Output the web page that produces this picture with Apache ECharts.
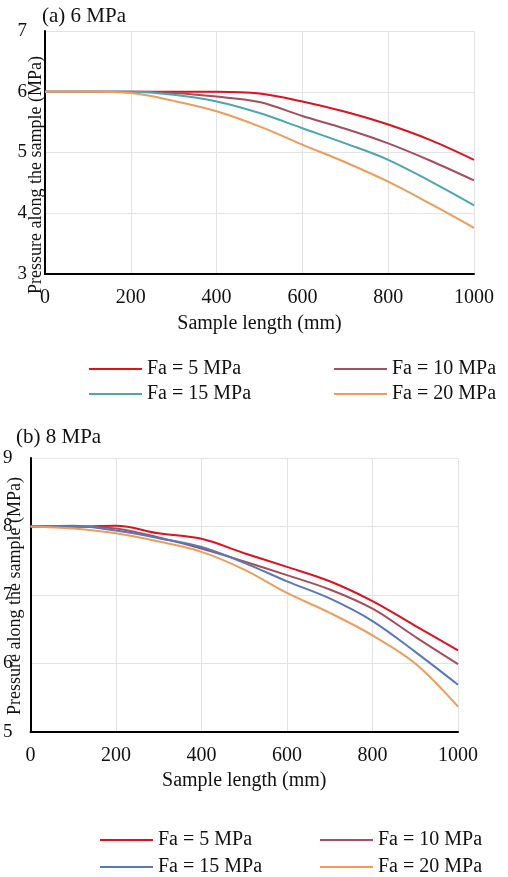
<!DOCTYPE html>
<html><head><meta charset="utf-8">
<script src="https://cdn.jsdelivr.net/npm/echarts@6/dist/echarts.min.js"></script>
<style>html,body{margin:0;padding:0;background:#fff}#c{width:508px;height:877px}</style>
</head><body><div id="c"></div>
<script>
var lengths = [0,100,200,300,400,500,600,700,800,900,1000];
var seriesNames = ['Fa = 5 MPa','Fa = 10 MPa','Fa = 15 MPa','Fa = 20 MPa'];
var xTicks = [0,200,400,600,800,1000];
// (a) 6 MPa
var a_fa5  = [6,6,6,6,6,5.97,5.84,5.67,5.46,5.2,4.88];
var a_fa10 = [6,6,6,5.98,5.92,5.83,5.6,5.39,5.15,4.86,4.54];
var a_fa15 = [6,6,6,5.95,5.84,5.65,5.4,5.15,4.88,4.52,4.13];
var a_fa20 = [6,6,5.98,5.85,5.68,5.43,5.13,4.84,4.52,4.15,3.76];
// (b) 8 MPa
var b_fa5  = [8,8,8.01,7.9,7.82,7.61,7.41,7.2,6.91,6.55,6.19];
var b_fa10 = [8,8,7.97,7.84,7.68,7.49,7.29,7.08,6.8,6.39,5.99];
var b_fa15 = [8,8.01,7.94,7.83,7.7,7.47,7.2,6.95,6.62,6.17,5.69];
var b_fa20 = [8,7.97,7.9,7.78,7.63,7.37,7.03,6.74,6.41,6.0,5.37];

var colorsA = ['#e0101e','#a34f5c','#4ba6b0','#ec9d5c'];
var colorsB = ['#e0101e','#a34f5c','#5779b9','#ec9d5c'];
var FONT = '"Liberation Serif","Times New Roman",serif';

function pairs(v){ return lengths.map(function(x,i){return [x,v[i]];}); }
function mkSeries(vals, colors, idx){
  return vals.map(function(v,i){
    return {type:'line', name:seriesNames[i], xAxisIndex:idx, yAxisIndex:idx, data:pairs(v),
      smooth:0.35, symbol:'none', lineStyle:{width:2,color:colors[i]},
      itemStyle:{color:colors[i]}};
  });
}
function mkLegends(colors, pos){
  return seriesNames.map(function(n,i){
    return {data:[{name:n, itemStyle:{color:colors[i]}}], left:pos[i][0], top:pos[i][1], padding:0,
      icon:'rect', itemWidth:53, itemHeight:2, itemGap:0, selectedMode:false,
      textStyle:{fontFamily:FONT,fontSize:20,color:'#111'}};
  });
}
function xAx(idx, gap){
  return {type:'value', gridIndex:idx, min:0, max:1000, interval:200,
    name:'Sample length (mm)', nameLocation:'middle', nameGap:gap,
    nameTextStyle:{fontFamily:FONT,fontSize:20,color:'#111'},
    axisLine:{show:true,lineStyle:{color:'#000',width:2}}, axisTick:{show:false},
    axisLabel:{fontFamily:FONT,fontSize:20,color:'#111',margin:14,formatter:function(v){return String(v);}},
    splitLine:{show:true,lineStyle:{color:'#e3e3e3',width:1}}};
}
function yAx(idx, mn, mx){
  return {type:'value', gridIndex:idx, min:mn, max:mx, interval:1,
    axisLine:{show:true,lineStyle:{color:'#000',width:2}}, axisTick:{show:false},
    axisLabel:{fontFamily:FONT,fontSize:19,color:'#111',margin:18},
    splitLine:{show:true,lineStyle:{color:'#e3e3e3',width:1}}};
}
var chart = echarts.init(document.getElementById('c'));
chart.setOption({
  animation:false,
  backgroundColor:'#fff',
  grid:[{left:45,top:31,width:429,height:243},{left:30,top:458,width:428,height:274}],
  xAxis:[xAx(0,40), xAx(1,39)],
  yAxis:[yAx(0,3,7), yAx(1,5,9)],
  legend: mkLegends(colorsA, [[89,359],[334,359],[89,384],[334,384]])
    .concat(mkLegends(colorsB, [[100,830],[320,830],[100,857],[320,857]])),
  graphic:[
    {type:'text', left:42, top:6, style:{text:'(a) 6 MPa', font:'21px '+FONT, fill:'#111'}},
    {type:'text', left:16, top:427, style:{text:'(b) 8 MPa', font:'21px '+FONT, fill:'#111'}},
    {type:'text', x:36, y:175, rotation:Math.PI/2, style:{text:'Pressure along the sample (MPa)', font:'18px '+FONT, fill:'#111', align:'center', verticalAlign:'middle'}},
    {type:'text', x:15, y:596, rotation:Math.PI/2, style:{text:'Pressure along the sample (MPa)', font:'18px '+FONT, fill:'#111', align:'center', verticalAlign:'middle'}}
  ],
  series: mkSeries([a_fa5,a_fa10,a_fa15,a_fa20], colorsA, 0)
    .concat(mkSeries([b_fa5,b_fa10,b_fa15,b_fa20], colorsB, 1))
});
</script></body></html>
